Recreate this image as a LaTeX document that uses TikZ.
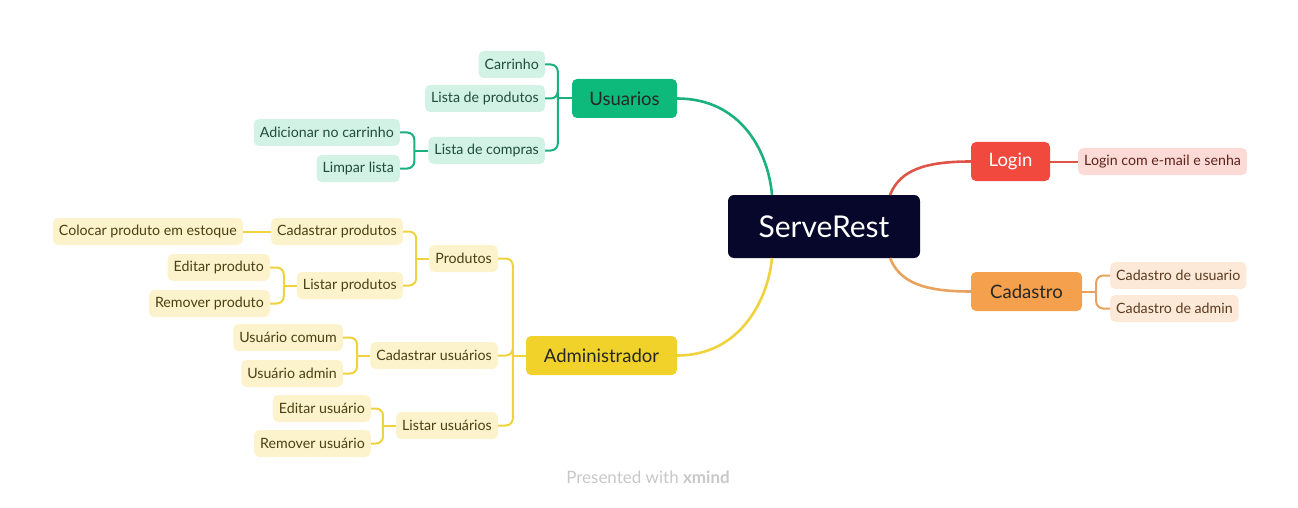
\documentclass[tikz,border=0pt]{standalone}
\usepackage{fontspec}
\setmainfont{Lato}
\usetikzlibrary{positioning,calc}

\definecolor{navy}{HTML}{07072B}
\definecolor{grn}{HTML}{0DBA7B}
\definecolor{grnline}{HTML}{1BB07C}
\definecolor{grnlight}{HTML}{D2F2E5}
\definecolor{grntext}{HTML}{1F4D3D}
\definecolor{rd}{HTML}{F2493E}
\definecolor{rdline}{HTML}{DF5449}
\definecolor{rdlight}{HTML}{FCDAD6}
\definecolor{rdtext}{HTML}{5C231D}
\definecolor{orn}{HTML}{F5A04C}
\definecolor{ornline}{HTML}{E9A25E}
\definecolor{ornlight}{HTML}{FDE9D8}
\definecolor{orntext}{HTML}{5A3B20}
\definecolor{ylw}{HTML}{F1D22A}
\definecolor{ylwline}{HTML}{EFD23C}
\definecolor{ylwlight}{HTML}{FCF3CC}
\definecolor{ylwtext}{HTML}{4B4012}
\definecolor{xmgray}{HTML}{C8C8C8}

\tikzset{
  root/.style={fill=navy, text=white, rounded corners=6pt, minimum width=192pt,
    minimum height=63pt, font=\fontsize{30}{34}\selectfont},
  topic/.style={rounded corners=5pt, minimum height=39pt, inner xsep=10pt,
    font=\fontsize{18.5}{22}\selectfont},
  sub/.style={rounded corners=5pt, minimum height=27pt, inner xsep=6pt,
    font=\fontsize{14.2}{16}\selectfont},
  gsub/.style={sub, fill=grnlight, text=grntext},
  rsub/.style={sub, fill=rdlight, text=rdtext},
  osub/.style={sub, fill=ornlight, text=orntext},
  ysub/.style={sub, fill=ylwlight, text=ylwtext},
  mainline/.style={line width=2.6pt},
  subline/.style={line width=2pt, rounded corners=7pt},
}

\begin{document}
\begin{tikzpicture}[x=1pt, y=-1pt]
\useasboundingbox (0,0) rectangle (1298,508);

% central and main topics
\node[root] (root) at (824,226.5) {ServeRest};
\node[topic, fill=grn, text=black!85, minimum width=105pt] (usr) at (624.5,98.5) {Usuarios};
\node[topic, fill=rd, text=white, minimum width=79pt] (login) at (1010.5,161.5) {Login};
\node[topic, fill=orn, text=black!85, minimum width=111pt] (cad) at (1026.5,291.5) {Cadastro};
\node[topic, fill=ylw, text=black!85, minimum width=151pt] (adm) at (601.5,355.5) {Administrador};

% Usuarios
\node[gsub, anchor=east] (carr) at (545,64.5) {Carrinho};
\node[gsub, anchor=east] (lprod) at (545,98.5) {Lista de produtos};
\node[gsub, anchor=east] (lcomp) at (545,150.5) {Lista de compras};
\node[gsub, anchor=east] (addc) at (400,132.5) {Adicionar no carrinho};
\node[gsub, anchor=east] (limp) at (400,168.5) {Limpar lista};

% Login e Cadastro
\node[rsub, anchor=west] (lemail) at (1078,161.5) {Login com e-mail e senha};
\node[osub, anchor=west] (cusr) at (1110,275.5) {Cadastro de usuario};
\node[osub, anchor=west] (cadm) at (1110,308.5) {Cadastro de admin};

% Administrador
\node[ysub, anchor=east] (prod) at (498,258.5) {Produtos};
\node[ysub, anchor=east] (cusu) at (498,355.5) {Cadastrar usuários};
\node[ysub, anchor=east] (lusu) at (498,425.5) {Listar usuários};
\node[ysub, anchor=east] (cprod) at (403,231.5) {Cadastrar produtos};
\node[ysub, anchor=east] (lsprod) at (403,285.5) {Listar produtos};
\node[ysub, anchor=east] (estq) at (243,231.5) {Colocar produto em estoque};
\node[ysub, anchor=east] (eprod) at (270,267.5) {Editar produto};
\node[ysub, anchor=east] (rprod) at (270,303.5) {Remover produto};
\node[ysub, anchor=east] (ucom) at (343,337.5) {Usuário comum};
\node[ysub, anchor=east] (uadm) at (343,373.5) {Usuário admin};
\node[ysub, anchor=east] (eusu) at (371,408.5) {Editar usuário};
\node[ysub, anchor=east] (rusu) at (371,443.5) {Remover usuário};

% main curves
\draw[mainline, grnline] (usr.east) .. controls (740,98.5) and (768,150) .. (772,195);
\draw[mainline, ylwline] (adm.east) .. controls (740,355.5) and (768,300) .. (772,258);
\draw[mainline, rdline] (login.west) .. controls (925,161.5) and (900,170) .. (890,195);
\draw[mainline, ornline] (cad.west) .. controls (925,291.5) and (900,283) .. (890,258);

% brackets
\coordinate (sp1) at ($(usr.west)+(-14,0)$);
\draw[subline, grnline] (usr.west) -- (sp1);
\foreach \c in {carr,lprod,lcomp} \draw[subline, grnline] (\c.east) -| (sp1);
\coordinate (sp2) at ($(lcomp.west)+(-14,0)$);
\draw[subline, grnline] (lcomp.west) -- (sp2);
\foreach \c in {addc,limp} \draw[subline, grnline] (\c.east) -| (sp2);

\draw[subline, rdline] (login.east) -- (lemail.west);
\coordinate (sp3) at ($(cad.east)+(14,0)$);
\draw[subline, ornline] (cad.east) -- (sp3);
\foreach \c in {cusr,cadm} \draw[subline, ornline] (\c.west) -| (sp3);

\coordinate (sp4) at ($(adm.west)+(-13,0)$);
\draw[subline, ylwline] (adm.west) -- (sp4);
\foreach \c in {prod,cusu,lusu} \draw[subline, ylwline] (\c.east) -| (sp4);
\coordinate (sp5) at ($(prod.west)+(-13,0)$);
\draw[subline, ylwline] (prod.west) -- (sp5);
\foreach \c in {cprod,lsprod} \draw[subline, ylwline] (\c.east) -| (sp5);
\draw[subline, ylwline] (cprod.west) -- (estq.east);
\coordinate (sp6) at ($(lsprod.west)+(-13,0)$);
\draw[subline, ylwline] (lsprod.west) -- (sp6);
\foreach \c in {eprod,rprod} \draw[subline, ylwline] (\c.east) -| (sp6);
\coordinate (sp7) at ($(cusu.west)+(-13,0)$);
\draw[subline, ylwline] (cusu.west) -- (sp7);
\foreach \c in {ucom,uadm} \draw[subline, ylwline] (\c.east) -| (sp7);
\coordinate (sp8) at ($(lusu.west)+(-13,0)$);
\draw[subline, ylwline] (lusu.west) -- (sp8);
\foreach \c in {eusu,rusu} \draw[subline, ylwline] (\c.east) -| (sp8);

% footer
\node[text=xmgray, font=\fontsize{17}{20}\selectfont] (foot) at (648,477) {Presented with \textbf{xmind}};
\end{tikzpicture}
\end{document}
